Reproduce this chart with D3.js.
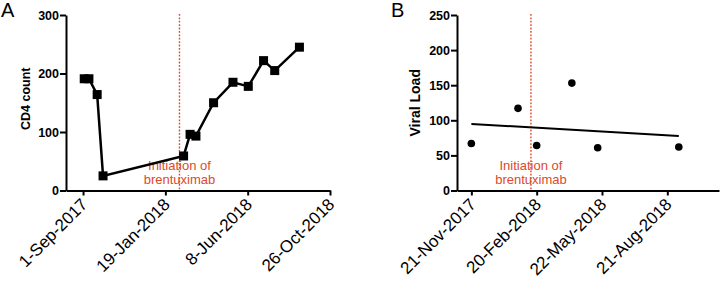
<!DOCTYPE html>
<html>
<head>
<meta charset="utf-8">
<script src="https://cdn.jsdelivr.net/npm/d3@7"></script>
<style>
  body { margin: 0; background: #fff; }
  svg { display: block; font-family: "Liberation Sans", Arial, sans-serif; }
</style>
</head>
<body>
<div id="chart"></div>
<script>
// Panel A: CD4 count over time
const cd4Dates = ['2017-09-03', '2017-09-11', '2017-09-25', '2017-10-05', '2018-02-19', '2018-03-02',
  '2018-03-12', '2018-04-11', '2018-05-14', '2018-06-09', '2018-07-05', '2018-07-24', '2018-09-04'];
const cd4Values = [191, 191, 164, 25, 59, 96, 93, 150, 185, 178, 222, 205, 245];
const cd4Ticks = ['2017-09-01', '2018-01-19', '2018-06-08', '2018-10-26'];
const cd4YTicks = [0, 100, 200, 300];

// Panel B: viral load over time
const vlDates = ['2017-11-21', '2018-01-25', '2018-02-20', '2018-04-10', '2018-05-16', '2018-09-06'];
const vlValues = [67, 117, 64, 153, 61, 62];
const vlTicks = ['2017-11-21', '2018-02-20', '2018-05-22', '2018-08-21'];
const vlYTicks = [0, 50, 100, 150, 200, 250];

const startDate = '2018-02-12';  // initiation of brentuximab
const annotation = ['Initiation of', 'brentuximab'];

const parse = d3.utcParse('%Y-%m-%d');
const fmt = d3.utcFormat('%-d-%b-%Y');
const red = '#dc4a2c';

const width = 720;
const height = 286;

const svg = d3.select('#chart')
  .append('svg')
  .attr('width', width)
  .attr('height', height);

function drawPanel(opts) {
  const g = svg.append('g');

  const x = d3.scaleUtc()
    .domain(opts.xDomain.map(parse))
    .range(opts.xRange);

  const y = d3.scaleLinear()
    .domain([0, opts.yMax])
    .range([190.5, 15]);

  // x axis
  const xAxis = g.append('g')
    .attr('transform', `translate(0,${y(0)})`)
    .call(d3.axisBottom(x)
      .tickValues(opts.xTicks.map(parse))
      .tickFormat(fmt)
      .tickSize(5)
      .tickSizeOuter(0));
  xAxis.select('.domain').attr('stroke-width', 2);
  xAxis.selectAll('.tick line').attr('stroke-width', 2);
  xAxis.selectAll('.tick text')
    .attr('y', 0)
    .attr('dy', 0)
    .attr('transform', 'translate(5,15) rotate(-45)')
    .style('text-anchor', 'end')
    .attr('font-size', '17px')
    .attr('font-family', '"Liberation Sans", Arial, sans-serif')
    .attr('fill', '#000');

  // y axis
  const yAxis = g.append('g')
    .attr('transform', `translate(${opts.xRange[0]},0)`)
    .call(d3.axisLeft(y)
      .tickValues(opts.yTicks)
      .tickSize(6)
      .tickPadding(1)
      .tickSizeOuter(0));
  yAxis.select('.domain').attr('stroke-width', 2);
  yAxis.selectAll('.tick line').attr('stroke-width', 2);
  yAxis.selectAll('.tick text')
    .attr('font-size', '12.5px')
    .attr('font-weight', 'bold')
    .attr('font-family', '"Liberation Sans", Arial, sans-serif')
    .attr('fill', '#000');

  // y label
  g.append('text')
    .attr('transform', 'rotate(-90)')
    .attr('x', -y(opts.yMax / 2) + opts.labelShift)
    .attr('y', opts.labelX)
    .attr('text-anchor', 'middle')
    .attr('font-size', opts.labelSize)
    .attr('font-weight', 'bold')
    .text(opts.yLabel);

  // panel letter
  g.append('text')
    .attr('x', opts.letterX)
    .attr('y', 17)
    .attr('font-size', '20px')
    .text(opts.letter);

  // initiation line
  const sx = x(parse(startDate));
  g.append('line')
    .attr('x1', sx).attr('x2', sx)
    .attr('y1', 14).attr('y2', y(0))
    .attr('stroke', red)
    .attr('stroke-width', 1.4)
    .attr('stroke-dasharray', '1.8,1.6');

  g.selectAll('.note')
    .data(annotation)
    .enter()
    .append('text')
    .attr('x', sx)
    .attr('y', (d, i) => 169.5 + i * 14)
    .attr('text-anchor', 'middle')
    .attr('font-size', '13px')
    .attr('fill', red)
    .text(d => d);

  return { g, x, y };
}

// Panel A
const a = drawPanel({
  xDomain: ['2017-08-03', '2018-10-26'],
  xRange: [66, 330],
  yMax: 300,
  xTicks: cd4Ticks,
  yTicks: cd4YTicks,
  yLabel: 'CD4 count',
  labelX: 30,
  labelSize: '12.5px',
  labelShift: 4,
  letter: 'A',
  letterX: 1
});

const cd4 = cd4Dates.map((d, i) => ({ date: parse(d), value: cd4Values[i] }));

a.g.append('path')
  .datum(cd4)
  .attr('fill', 'none')
  .attr('stroke', '#000')
  .attr('stroke-width', 2.5)
  .attr('d', d3.line().x(d => a.x(d.date)).y(d => a.y(d.value)));

a.g.selectAll('.sq')
  .data(cd4)
  .enter()
  .append('rect')
  .attr('x', d => a.x(d.date) - 4.5)
  .attr('y', d => a.y(d.value) - 4.5)
  .attr('width', 9)
  .attr('height', 9)
  .attr('fill', '#000');

// Panel B
const b = drawPanel({
  xDomain: ['2017-11-01', '2018-11-01'],
  xRange: [457, 719],
  yMax: 250,
  xTicks: vlTicks,
  yTicks: vlYTicks,
  yLabel: 'Viral Load',
  labelX: 420,
  labelSize: '14px',
  labelShift: 0,
  letter: 'B',
  letterX: 391
});

const vl = vlDates.map((d, i) => ({ date: parse(d), value: vlValues[i] }));

// linear regression through the viral load points
const mx = d3.mean(vl, d => +d.date);
const my = d3.mean(vl, d => d.value);
const slope = d3.sum(vl, d => (+d.date - mx) * (d.value - my)) / d3.sum(vl, d => (+d.date - mx) ** 2);
const ends = d3.extent(vl, d => +d.date);

b.g.append('line')
  .attr('x1', b.x(ends[0]))
  .attr('x2', b.x(ends[1]))
  .attr('y1', b.y(my + slope * (ends[0] - mx)))
  .attr('y2', b.y(my + slope * (ends[1] - mx)))
  .attr('stroke', '#000')
  .attr('stroke-width', 2);

b.g.selectAll('.dot')
  .data(vl)
  .enter()
  .append('circle')
  .attr('cx', d => b.x(d.date))
  .attr('cy', d => b.y(d.value))
  .attr('r', 3.8)
  .attr('fill', '#000');
</script>
</body>
</html>
